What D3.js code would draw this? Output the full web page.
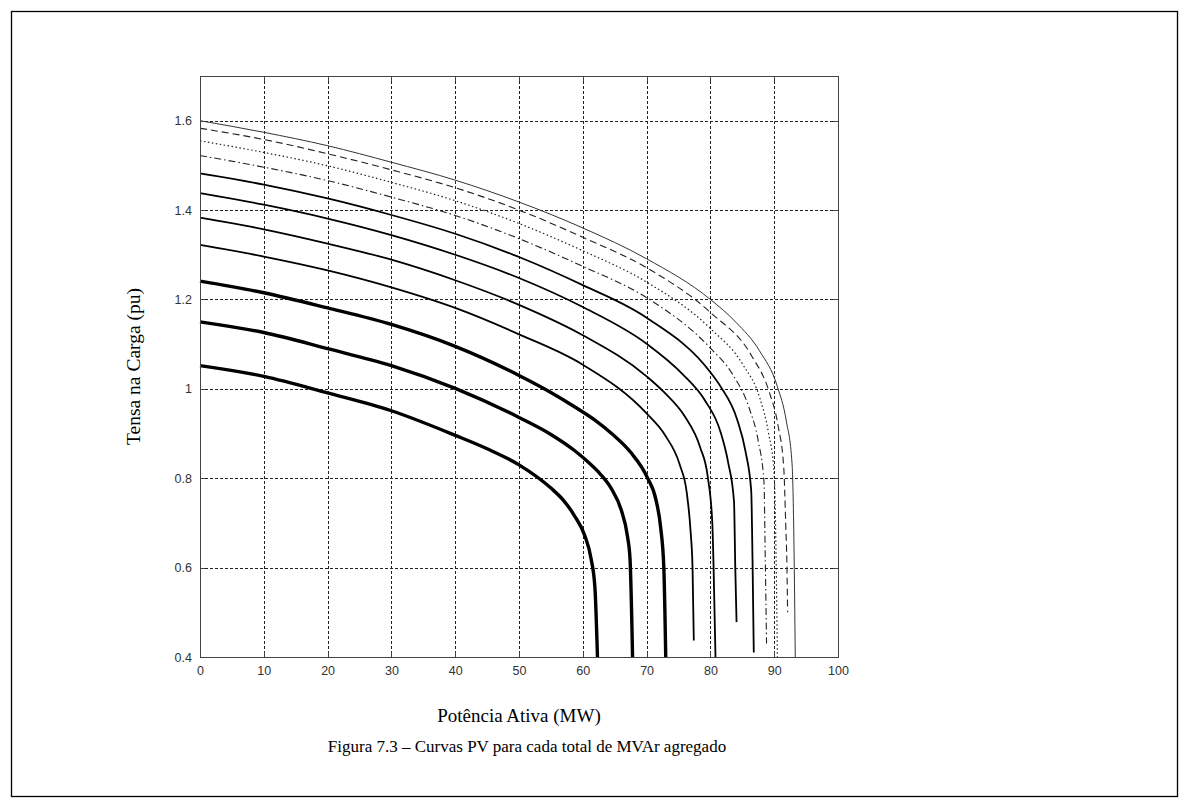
<!DOCTYPE html>
<html>
<head>
<meta charset="utf-8">
<script src="https://cdn.jsdelivr.net/npm/d3@7"></script>
<style>
  html, body { margin: 0; padding: 0; background: #fff; }
  svg { display: block; }
</style>
</head>
<body>
<svg id="chart" width="1189" height="808"></svg>
<script>
// Eixos
const xTickValues = [0, 10, 20, 30, 40, 50, 60, 70, 80, 90, 100];
const yTickValues = [0.4, 0.6, 0.8, 1.0, 1.2, 1.4, 1.6];
const yTickLabels = ["0.4", "0.6", "0.8", "1", "1.2", "1.4", "1.6"];

// Curvas PV: potência ativa (MW) e tensão na carga (pu), da maior para a menor compensação
const p1 = [0, 10, 20, 30, 40, 50, 60, 70, 80, 84.0, 87.7, 90.5, 91.9, 92.8, 93.1, 93.3];
const v1 = [1.600, 1.574, 1.544, 1.507, 1.467, 1.418, 1.360, 1.291, 1.200, 1.149, 1.085, 1.005, 0.928, 0.832, 0.650, 0.400];

const p2 = [0, 10, 20, 30, 40, 50, 60, 70, 80, 86.5, 89.2, 90.6, 91.5, 91.8, 92.0, 92.1];
const v2 = [1.583, 1.558, 1.526, 1.490, 1.450, 1.400, 1.339, 1.271, 1.171, 1.073, 0.994, 0.918, 0.823, 0.700, 0.600, 0.500];

const p3 = [0, 10, 20, 30, 40, 50, 60, 70, 80, 85.1, 87.8, 89.1, 90.0, 90.3, 90.5];
const v3 = [1.555, 1.529, 1.499, 1.462, 1.421, 1.370, 1.309, 1.239, 1.135, 1.054, 0.977, 0.902, 0.809, 0.620, 0.400];

const p4 = [0, 10, 20, 30, 40, 50, 60, 70, 80, 83.5, 86.1, 87.5, 88.4, 88.6, 88.8];
const v4 = [1.522, 1.496, 1.466, 1.429, 1.388, 1.336, 1.274, 1.204, 1.091, 1.032, 0.956, 0.883, 0.791, 0.620, 0.430];

const p5 = [0, 10, 20, 30, 40, 50, 60, 70, 80, 81.6, 84.2, 85.5, 86.4, 86.6, 86.8];
const v5 = [1.482, 1.457, 1.426, 1.389, 1.347, 1.295, 1.232, 1.159, 1.037, 1.005, 0.931, 0.860, 0.771, 0.620, 0.410];

const p6 = [0, 10, 20, 30, 40, 50, 60, 70, 75.7, 79.1, 81.6, 82.8, 83.7, 83.9, 84.1];
const v6 = [1.438, 1.412, 1.381, 1.344, 1.300, 1.248, 1.183, 1.101, 1.032, 0.975, 0.903, 0.834, 0.748, 0.600, 0.478];

const p7 = [0, 10, 20, 30, 40, 50, 60, 70, 72.7, 76.0, 78.4, 79.6, 80.3, 80.5, 80.8];
const v7 = [1.383, 1.357, 1.325, 1.289, 1.243, 1.188, 1.120, 1.028, 0.993, 0.938, 0.869, 0.802, 0.700, 0.600, 0.400];

const p8 = [0, 10, 20, 30, 40, 50, 60, 70, 72.9, 75.2, 76.3, 76.9, 77.2, 77.4];
const v8 = [1.322, 1.296, 1.265, 1.227, 1.181, 1.122, 1.054, 0.945, 0.896, 0.830, 0.767, 0.680, 0.600, 0.437];

const p9 = [0, 10, 20, 30, 40, 50, 55, 58.7, 61.9, 64.6, 67.5, 70.1, 71.5, 72.2, 72.7, 73.0];
const v9 = [1.241, 1.215, 1.181, 1.144, 1.095, 1.030, 0.992, 0.960, 0.930, 0.899, 0.858, 0.802, 0.750, 0.690, 0.600, 0.400];

const p10 = [0, 10, 20, 30, 40, 50, 55, 58.7, 61.0, 62.7, 64.5, 66.0, 67.0, 67.4, 67.8];
const v10 = [1.150, 1.126, 1.090, 1.052, 1.001, 0.936, 0.898, 0.862, 0.834, 0.810, 0.776, 0.730, 0.670, 0.620, 0.400];

const p11 = [0, 10, 20, 30, 40, 45, 50, 55, 57, 58.7, 60.3, 61.3, 61.9, 62.3];
const v11 = [1.052, 1.028, 0.991, 0.951, 0.896, 0.866, 0.830, 0.778, 0.750, 0.716, 0.672, 0.620, 0.555, 0.400];

const seriesP = [p1, p2, p3, p4, p5, p6, p7, p8, p9, p10, p11];
const seriesV = [v1, v2, v3, v4, v5, v6, v7, v8, v9, v10, v11];

// Estilo de traço de cada curva
const lineStyles = [
  { width: 1.0, dash: null,            color: "#333" },
  { width: 1.1, dash: "7,4",           color: "#222" },
  { width: 1.2, dash: "1.5,2.5",       color: "#222" },
  { width: 1.1, dash: "7,3,1.5,3",     color: "#222" },
  { width: 1.8, dash: null,            color: "#000" },
  { width: 1.8, dash: null,            color: "#000" },
  { width: 1.8, dash: null,            color: "#000" },
  { width: 1.8, dash: null,            color: "#000" },
  { width: 3.4, dash: null,            color: "#000" },
  { width: 3.4, dash: null,            color: "#000" },
  { width: 3.4, dash: null,            color: "#000" }
];

const svg = d3.select("#chart");

// Moldura da figura
svg.append("rect")
  .attr("x", 11.5).attr("y", 11.5)
  .attr("width", 1166).attr("height", 785)
  .attr("fill", "none").attr("stroke", "#000").attr("stroke-width", 1.3);

const plot = { left: 200, right: 838, top: 76, bottom: 657 };

const x = d3.scaleLinear().domain([0, 100]).range([plot.left, plot.right]);
const y = d3.scaleLinear().domain([0.4, 1.7]).range([plot.bottom, plot.top]);

const g = svg.append("g");

// Grade pontilhada
const gridStyle = sel => sel.attr("stroke", "#222").attr("stroke-width", 1)
  .attr("stroke-dasharray", "3,2").attr("shape-rendering", "crispEdges");

g.append("g").selectAll("line").data(xTickValues.slice(1, -1)).join("line")
  .attr("x1", d => Math.round(x(d)) + 0.5).attr("x2", d => Math.round(x(d)) + 0.5)
  .attr("y1", plot.top).attr("y2", plot.bottom)
  .call(gridStyle);

g.append("g").selectAll("line").data(yTickValues.slice(1)).join("line")
  .attr("x1", plot.left).attr("x2", plot.right)
  .attr("y1", d => Math.round(y(d)) + 0.5).attr("y2", d => Math.round(y(d)) + 0.5)
  .call(gridStyle);

// Curvas
const line = d3.line()
  .x(d => x(d[0]))
  .y(d => y(d[1]))
  .curve(d3.curveMonotoneX);

seriesP.forEach((ps, i) => {
  const pts = d3.zip(ps, seriesV[i]);
  const st = lineStyles[i];
  g.append("path")
    .datum(pts)
    .attr("d", line)
    .attr("fill", "none")
    .attr("stroke", st.color)
    .attr("stroke-width", st.width)
    .attr("stroke-dasharray", st.dash)
    .attr("stroke-linejoin", "round");
});

// Eixos com marcas internas (estilo MATLAB)
const tickFont = "'Liberation Sans', Arial, sans-serif";
const axisColor = "#444";

const xAxisBottom = d3.axisBottom(x).tickValues(xTickValues).tickSizeInner(-5).tickSizeOuter(0).tickPadding(9);
const xAxisTop = d3.axisTop(x).tickValues(xTickValues).tickSizeInner(-5).tickSizeOuter(0).tickFormat("");
const yAxisLeft = d3.axisLeft(y).tickValues(yTickValues).tickSizeInner(-5).tickSizeOuter(0).tickPadding(8)
  .tickFormat((d, i) => yTickLabels[i]);
const yAxisRight = d3.axisRight(y).tickValues(yTickValues).tickSizeInner(-5).tickSizeOuter(0).tickFormat("");

function styleAxis(sel) {
  sel.select(".domain").remove();
  sel.selectAll("line").attr("stroke", axisColor).attr("shape-rendering", "crispEdges");
  sel.selectAll("text").attr("font-family", tickFont).attr("font-size", 12.5).attr("fill", "#333");
}

g.append("g").attr("transform", `translate(0,${plot.bottom})`).call(xAxisBottom).call(styleAxis);
g.append("g").attr("transform", `translate(0,${plot.top})`).call(xAxisTop).call(styleAxis);
g.append("g").attr("transform", `translate(${plot.left},0)`).call(yAxisLeft).call(styleAxis);
g.append("g").attr("transform", `translate(${plot.right},0)`).call(yAxisRight).call(styleAxis);

// Caixa dos eixos
g.append("rect")
  .attr("x", plot.left + 0.5).attr("y", plot.top + 0.5)
  .attr("width", plot.right - plot.left).attr("height", plot.bottom - plot.top)
  .attr("fill", "none").attr("stroke", axisColor).attr("stroke-width", 1)
  .attr("shape-rendering", "crispEdges");

// Rótulos
const serif = "'Liberation Serif', 'Times New Roman', serif";

svg.append("text")
  .attr("x", (plot.left + plot.right) / 2).attr("y", 722)
  .attr("text-anchor", "middle")
  .attr("font-family", serif).attr("font-size", 19)
  .text("Potência Ativa (MW)");

svg.append("text")
  .attr("transform", `translate(140,${(plot.top + plot.bottom) / 2}) rotate(-90)`)
  .attr("text-anchor", "middle")
  .attr("font-family", serif).attr("font-size", 19.5)
  .text("Tensa na Carga (pu)");

svg.append("text")
  .attr("x", 527).attr("y", 752)
  .attr("text-anchor", "middle")
  .attr("font-family", serif).attr("font-size", 17)
  .text("Figura 7.3 – Curvas PV para cada total de MVAr agregado");
</script>
</body>
</html>
